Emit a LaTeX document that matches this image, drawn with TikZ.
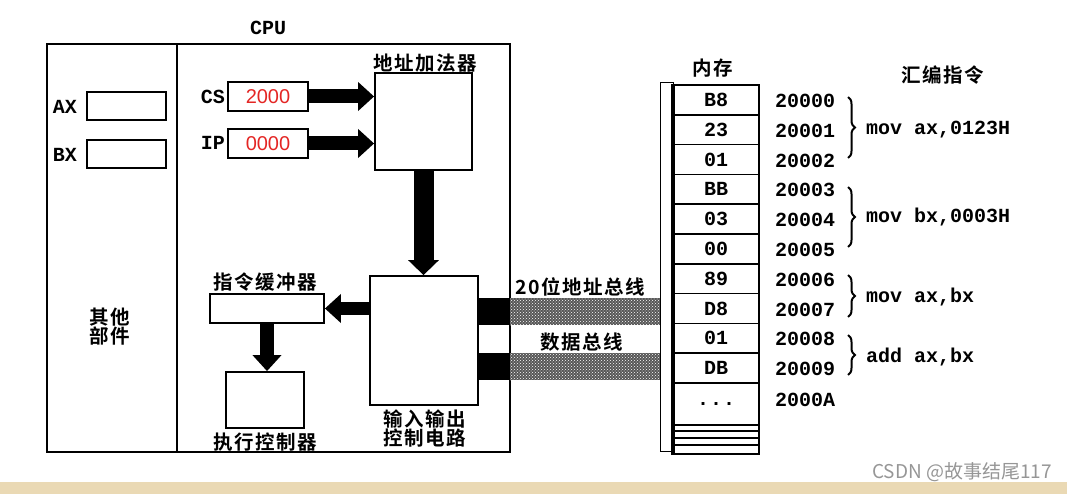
\documentclass[tikz,border=0pt]{standalone}
\usepackage{fontspec}
\newfontfamily\cjkfont{Noto Sans CJK SC}[BoldFont={Noto Sans CJK SC Bold},LetterSpace=8]
\newfontfamily\wmfont{Noto Sans CJK SC}
\newfontfamily\monofont{Liberation Mono}
\newfontfamily\valfont{Liberation Sans}
\usetikzlibrary{arrows.meta,patterns,decorations.pathreplacing}

\definecolor{regred}{RGB}{228,38,36}
\definecolor{bandbeige}{RGB}{234,217,180}
\definecolor{wmgray}{RGB}{150,150,150}

\tikzset{
  unitbox/.style={draw, line width=1.8pt, fill=white, inner sep=0pt},
  cjklabel/.style={font=\cjkfont\bfseries\fontsize{19.5}{19}\selectfont, inner sep=0pt, align=center},
  monolabel/.style={font=\monofont\bfseries\fontsize{20}{20}\selectfont, inner sep=0pt},
  memcell/.style={draw, line width=1.6pt, minimum width=86pt, minimum height=29.8pt,
    inner sep=0pt, font=\monofont\bfseries\fontsize{20}{20}\selectfont},
  fatarrow/.style={line width=14pt, -{Triangle[length=16pt,width=28pt]}},
  busstub/.style={fill=black, inner sep=0pt, minimum width=32pt, minimum height=27pt},
  bushatch/.style={fill=black!66, postaction={pattern=crosshatch dots, pattern color=white},
    inner sep=0pt, minimum width=150pt, minimum height=27pt},
  groupbrace/.style={decorate, decoration={brace, amplitude=7pt}, line width=2pt}
}

\begin{document}
\begin{tikzpicture}[x=1pt,y=-1pt]
\useasboundingbox (0,0) rectangle (1067,494);
\fill[bandbeige] (0,482) rectangle (1067,494);

% cpu frame
\node[unitbox, minimum width=463pt, minimum height=408pt] (cpu) at (278.5,248) {};
\coordinate (split) at (177,0);
\draw[line width=1.8pt] (cpu.north -| split) -- (cpu.south -| split);
\node[monolabel] (cpulab) at (268,28) {CPU};

% general registers
\node[monolabel] (axlab) at (65,107) {AX};
\node[unitbox, minimum width=79pt, minimum height=28pt] (ax) at (126.5,106) {};
\node[monolabel] (bxlab) at (65,155) {BX};
\node[unitbox, minimum width=79pt, minimum height=28pt] (bx) at (126.5,154) {};
\node[cjklabel] (other) at (110,327) {其他\\部件};

% segment and pointer registers
\node[monolabel, anchor=east] (cslab) at (225,97) {CS};
\node[unitbox, minimum width=80pt, minimum height=29pt, text=regred,
  font=\valfont\fontsize{20}{20}\selectfont] (cs) at (268,96.5) {2000};
\node[monolabel, anchor=east] (iplab) at (225,143) {IP};
\node[unitbox, minimum width=80pt, minimum height=29pt, text=regred,
  font=\valfont\fontsize{20}{20}\selectfont] (ip) at (268,143.5) {0000};

% adder, io, buffer, exec
\node[unitbox, minimum width=97pt, minimum height=97pt] (adder) at (423.5,121.5) {};
\node[cjklabel] (adderlab) at (425,63) {地址加法器};
\node[unitbox, minimum width=108pt, minimum height=129pt] (io) at (424,340.5) {};
\node[cjklabel] (iolab) at (425,429) {输入输出\\控制电路};
\node[unitbox, minimum width=114pt, minimum height=29pt] (buf) at (267,308.5) {};
\node[cjklabel] (buflab) at (265,282) {指令缓冲器};
\node[unitbox, minimum width=78pt, minimum height=56pt] (exec) at (265,400) {};
\node[cjklabel] (execlab) at (265,442) {执行控制器};

\draw[fatarrow] (cs.east) -- (cs.east -| adder.west);
\draw[fatarrow] (ip.east) -- (ip.east -| adder.west);
\draw[fatarrow, line width=20pt, -{Triangle[length=15pt,width=30pt]}] (adder.south) -- (adder.south |- io.north);
\draw[fatarrow, line width=13pt] (io.west |- buf.east) -- (buf.east);
\draw[fatarrow] (buf.south) -- (buf.south |- exec.north);

% buses
\node[busstub] (astub) at (494,311.5) {};
\node[busstub] (dstub) at (494,366.5) {};
\node[bushatch] (abus) at (585,311.5) {};
\node[bushatch] (dbus) at (585,366.5) {};
\node[cjklabel] (abuslab) at (580,287) {20位地址总线};
\node[cjklabel] (dbuslab) at (582,342) {数据总线};

% memory
\node[cjklabel] (memlab) at (713,68) {内存};
\draw[line width=1pt] (660,83) rectangle (673,451);
\foreach \v [count=\i] in {B8,23,01,BB,03,00,89,D8,01,DB}
  \node[memcell, fill=white] (m\i) at (716,85+29.8*\i-14.9) {\v};
\node[memcell, fill=white, minimum height=42pt] (mdots) at (716,404) {.\hspace{1pt}.\hspace{1pt}.};
\foreach \t/\b in {425/431,431/438,438/445,445/454}
  \draw[line width=1.6pt] (673,\t) rectangle (759,\b);
\draw[line width=3.5pt] (673,84) -- (673,455);

% addresses
\foreach \a [count=\i] in {20000,20001,20002,20003,20004,20005,20006,20007,20008,20009}
  \node[monolabel] (addr\i) at (805,86+29.8*\i-14.9) {\a};
\node[monolabel] (addr11) at (805,400) {2000A};

% instructions
\node[cjklabel] (asmlab) at (943,75) {汇编指令};
\draw[groupbrace] (848,97) -- (848,158);
\draw[groupbrace] (848,187) -- (848,247);
\draw[groupbrace] (848,275) -- (848,317);
\draw[groupbrace] (848,335) -- (848,375);
\node[monolabel, anchor=west] (ins1) at (866,130) {mov ax,0123H};
\node[monolabel, anchor=west] (ins2) at (866,217) {mov bx,0003H};
\node[monolabel, anchor=west] (ins3) at (866,297) {mov ax,bx};
\node[monolabel, anchor=west] (ins4) at (866,357) {add ax,bx};

\node[anchor=east, inner sep=0pt, text=wmgray, font=\wmfont\fontsize{19}{19}\selectfont] (mark) at (1052,472) {CSDN @故事结尾117};
\end{tikzpicture}
\end{document}
